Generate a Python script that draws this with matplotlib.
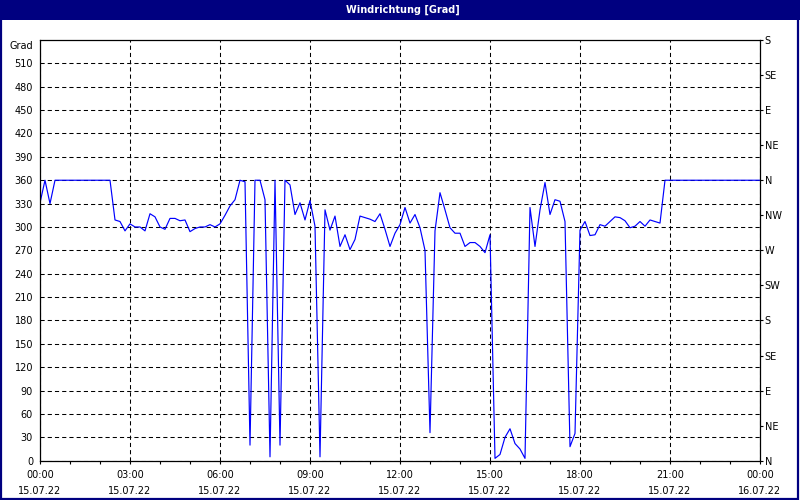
import matplotlib
matplotlib.use("Agg")
import matplotlib.pyplot as plt
import matplotlib.dates as mdates
import pandas as pd
from matplotlib.patches import Rectangle

# Windrichtung, 10-Minuten-Werte 15.07.22 00:00 .. 16.07.22 00:00
values = [
    331, 360, 330, 360, 360, 360, 360, 360, 360, 360, 360, 360, 360, 360, 360,
    309, 307, 295, 304, 300, 300, 295, 317, 313, 300, 297, 311, 311, 308, 309,
    294, 298, 300, 300, 303, 300, 304, 315, 327, 335, 360, 358, 20, 360, 360,
    335, 5, 360, 20, 360, 354, 316, 331, 309, 334, 301, 5, 322, 296, 314,
    275, 290, 271, 284, 314, 312, 310, 307, 317, 297, 275, 292, 303, 325, 305,
    316, 299, 270, 36, 295, 344, 322, 299, 292, 292, 275, 280, 280, 275, 267,
    290, 3, 8, 30, 41, 22, 15, 3, 325, 275, 322, 357, 316, 335, 333,
    307, 18, 35, 296, 307, 289, 290, 303, 301, 307, 313, 312, 308, 299, 301,
    307, 301, 309, 307, 305, 360, 360, 360, 360, 360, 360, 360, 360, 360, 360,
    360, 360, 360, 360, 360, 360, 360, 360, 360, 360,
]
start = "2022-07-15 00:00"
times = pd.date_range(start, periods=len(values), freq="10min")

left_ticks = list(range(0, 540, 30))
dir_ticks = list(range(0, 541, 45))
dir_labels = ["N", "NE", "E", "SE", "S", "SW", "W", "NW",
              "N", "NE", "E", "SE", "S"]

NAVY = "#000080"
plt.rcParams["lines.scale_dashes"] = False
plt.rcParams["font.family"] = ["DejaVu Sans"]
FS = 7

fig = plt.figure(figsize=(8, 5), dpi=100, facecolor="white")

# title bar + border
fig.patches.append(Rectangle((0, 0.96), 1, 0.04, transform=fig.transFigure,
                             facecolor=NAVY, edgecolor="none", zorder=0))
fig.patches.append(Rectangle((0.001, 0.002), 0.997, 0.996,
                             transform=fig.transFigure, fill=False,
                             edgecolor=NAVY, lw=1.6, zorder=5))
fig.text(0.503, 0.981, "Windrichtung [Grad]", color="white", ha="center",
         va="center", fontsize=FS, fontweight="bold")

ax = fig.add_axes([0.05, 0.0786, 0.90, 0.8414])
ax.plot(times, values, color="#0000ff", lw=0.85, zorder=3)

t0 = pd.Timestamp(start)
t1 = t0 + pd.Timedelta(hours=24)
ax.set_xlim(t0, t1)
ax.set_ylim(0, 540)

ax.set_yticks(left_ticks)
ax.set_yticklabels([str(v) for v in left_ticks])
ax.tick_params(axis="y", length=0, pad=5, labelsize=FS)
ax.annotate("Grad", xy=(0, 1), xycoords="axes fraction", xytext=(-5, -4),
            textcoords="offset points", ha="right", va="center", fontsize=FS)

ax.xaxis.set_major_locator(mdates.HourLocator(byhour=range(0, 24, 3)))
ax.xaxis.set_minor_locator(mdates.HourLocator())
ax.xaxis.set_major_formatter(mdates.DateFormatter("%H:%M\n%d.%m.%y"))
ax.tick_params(axis="x", which="both", direction="out", length=2.5,
               width=0.8, labelsize=FS, pad=4)
for lbl in ax.get_xticklabels():
    lbl.set_linespacing(1.75)

ax.grid(True, which="major", color="black", lw=0.75,
        linestyle=(0, (3.0, 2.2)))
for sp in ax.spines.values():
    sp.set_linewidth(0.9)
    sp.set_zorder(4)

ax2 = ax.twinx()
ax2.set_ylim(0, 540)
ax2.set_yticks(dir_ticks)
ax2.set_yticklabels(dir_labels)
ax2.tick_params(axis="y", direction="out", length=2.5, width=0.8,
                pad=1, labelsize=FS)
for sp in ax2.spines.values():
    sp.set_visible(False)

fig.savefig("out.png", dpi=100, facecolor="white")
